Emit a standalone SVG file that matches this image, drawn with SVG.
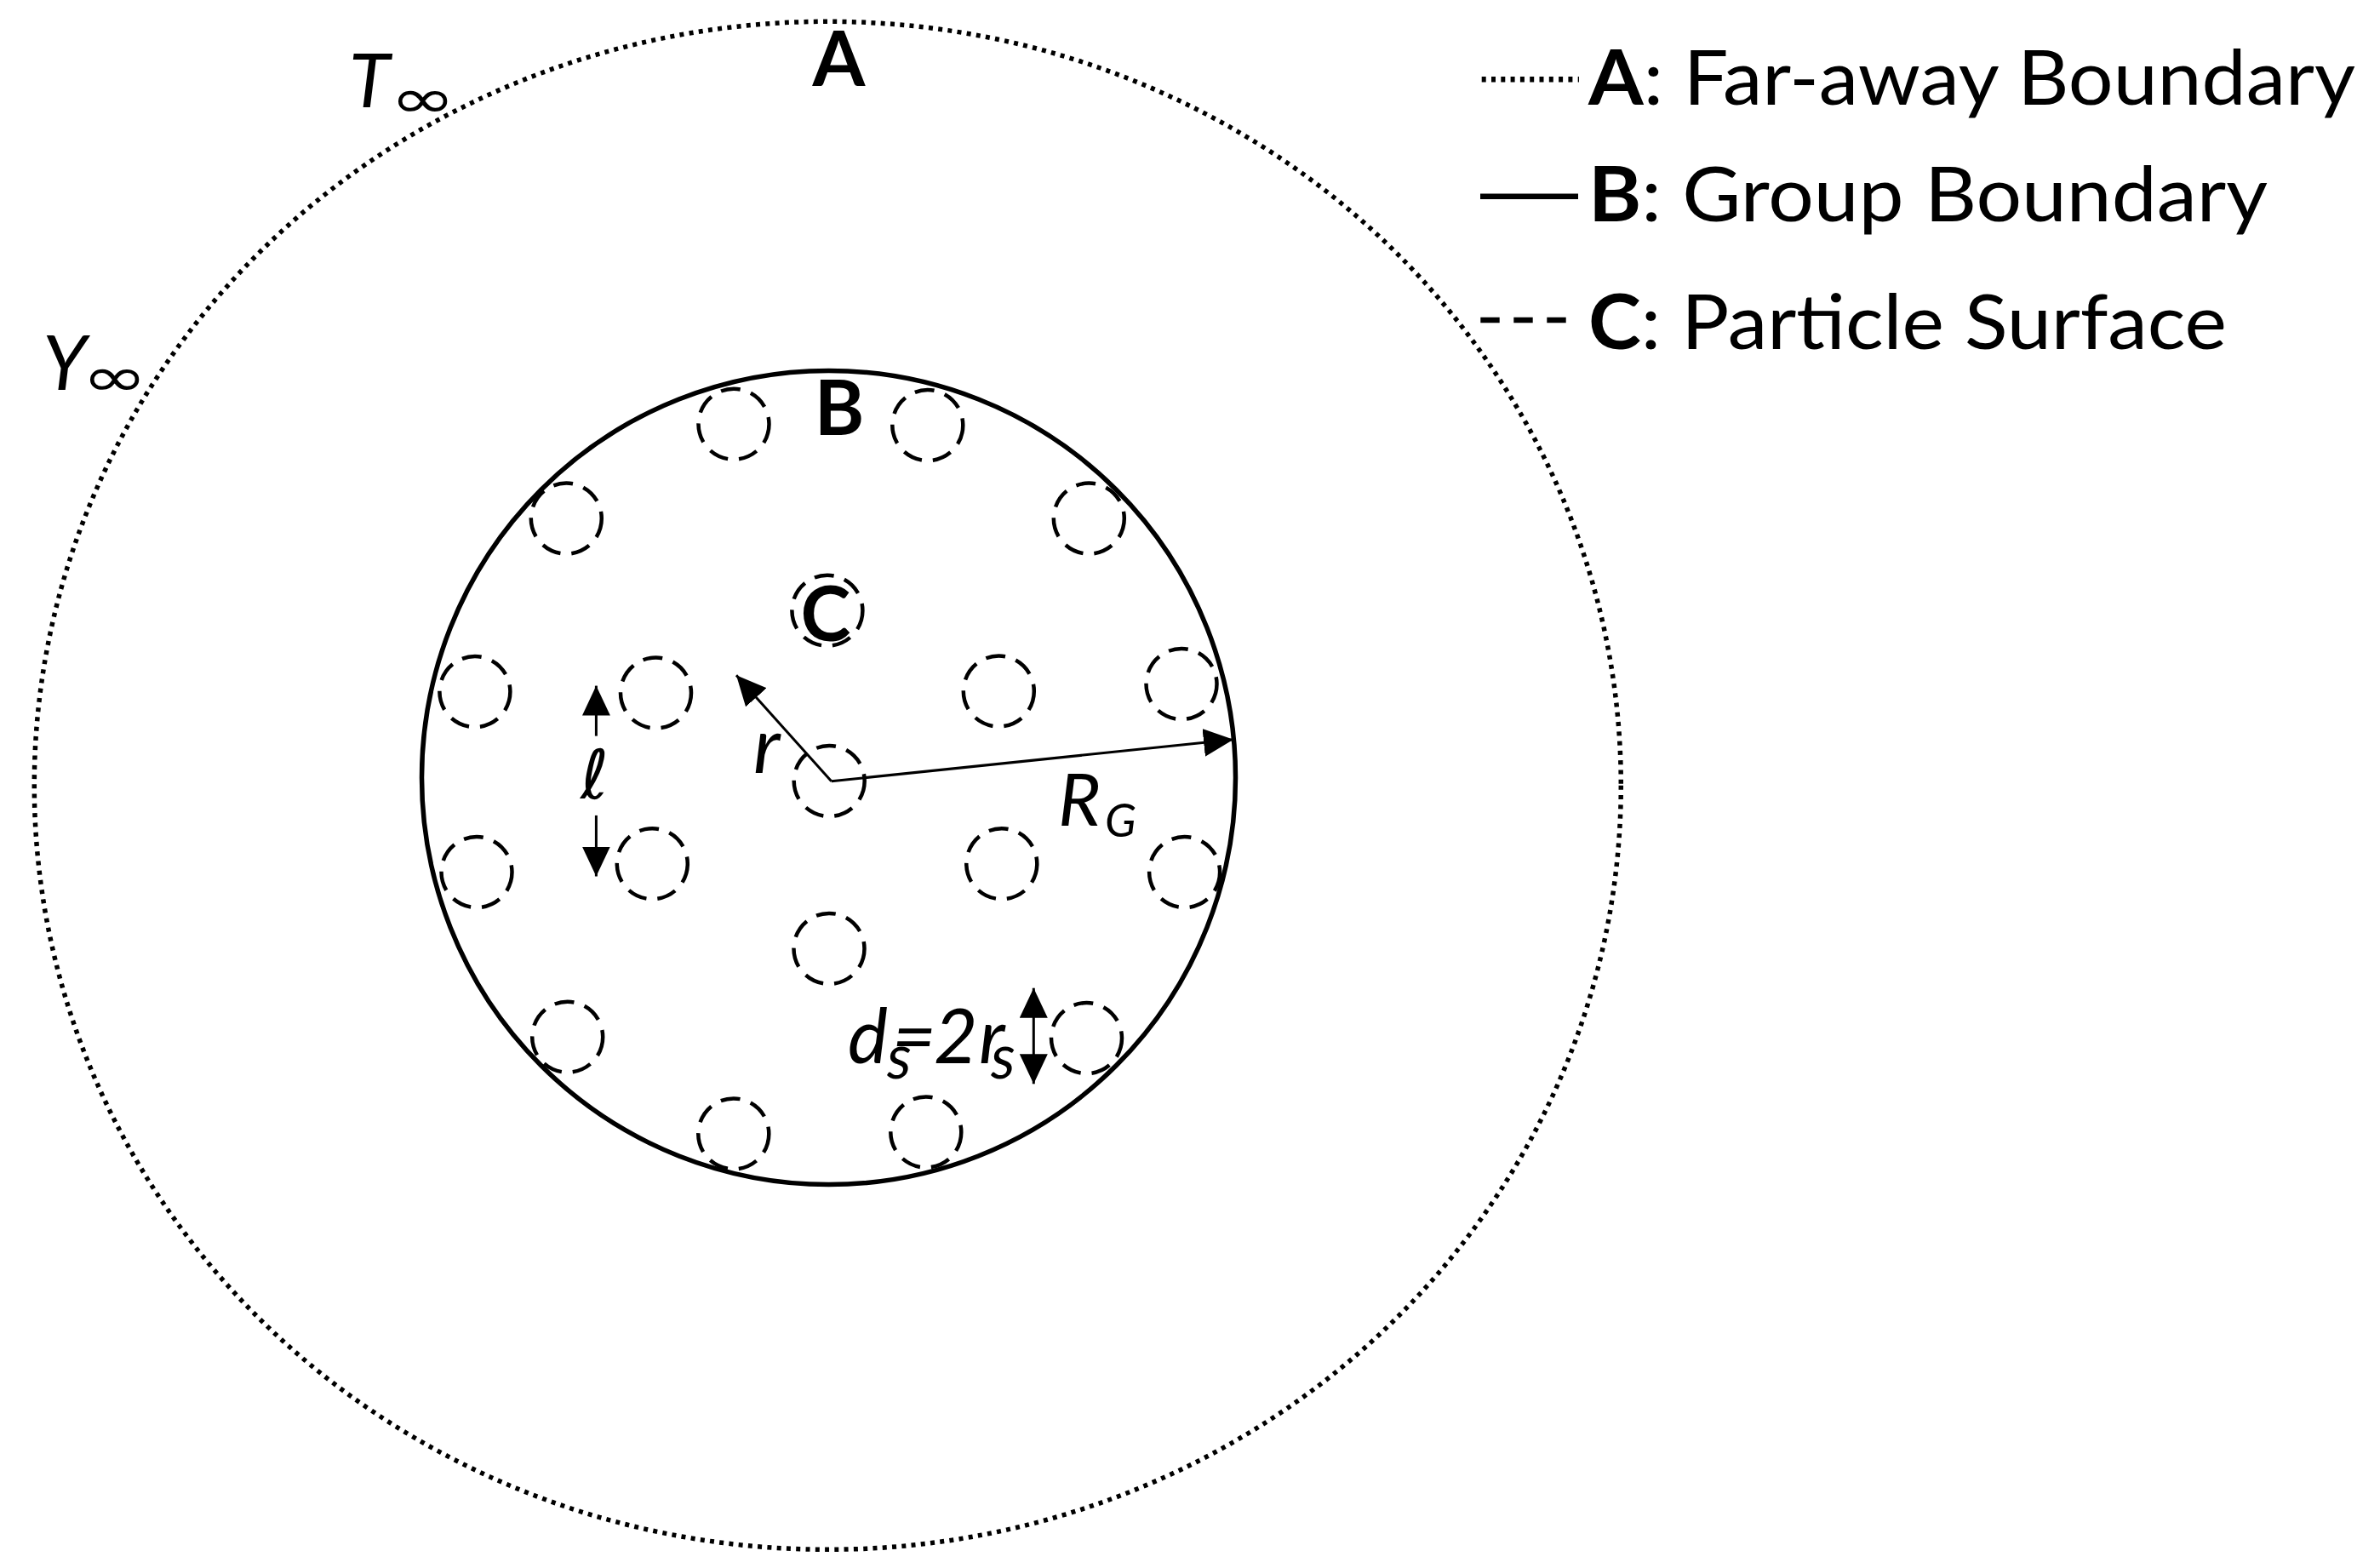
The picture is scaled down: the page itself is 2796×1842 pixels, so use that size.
<svg xmlns="http://www.w3.org/2000/svg" width="2796" height="1842" viewBox="0 0 2796 1842">
<style>
.dot{fill:none;stroke:#000;stroke-width:5.5;stroke-dasharray:5 6.3}
.solid{fill:none;stroke:#000;stroke-width:5.5}
.part{fill:none;stroke:#000;stroke-width:4.5;stroke-dasharray:23 13}
.arr{stroke:#000;stroke-width:3;fill:none}
.lbl{font-family:Lato,"Liberation Sans",sans-serif;font-weight:bold;font-size:89px;fill:#000}
.it{font-family:Lato,"Liberation Sans",sans-serif;font-style:italic;fill:#000}
.sym{font-family:"DejaVu Sans",sans-serif;font-style:italic;fill:#000}
.leg{font-family:Lato,"Liberation Sans",sans-serif;font-size:89px;fill:#000}
</style>
<defs>
<marker id="ah" markerUnits="userSpaceOnUse" markerWidth="36" markerHeight="34" refX="35" refY="16.5" orient="auto-start-reverse" viewBox="0 0 36 34">
<path d="M0,0 L35,16.5 L0,33 z" fill="#000"/>
</marker>
</defs>
<rect width="2796" height="1842" fill="#fff"/>
<g id="far-away-boundary">
<ellipse class="dot" cx="972.3" cy="922.8" rx="932" ry="897.5"/>
<text class="lbl" x="985.5" y="101" text-anchor="middle">A</text>
<text class="it" x="410" y="126" font-size="88">T</text>
<text class="sym" font-size="64" transform="translate(458,138) scale(1.45,1)">∞</text>
<text class="it" x="50" y="457.5" font-size="89">Y</text>
<text class="sym" font-size="64" transform="translate(96,465) scale(1.45,1)">∞</text>
</g>
<g id="group-boundary">
<circle class="solid" cx="973.5" cy="913.5" r="478"/>
<text class="lbl" x="986" y="510.7" text-anchor="middle">B</text>
</g>
<g id="particles">
<circle class="part" cx="862" cy="498.2" r="41.5"/>
<circle class="part" cx="1089.8" cy="499.6" r="41.5"/>
<circle class="part" cx="665.3" cy="609.1" r="41.5"/>
<circle class="part" cx="1279.3" cy="609.1" r="41.5"/>
<circle class="part" cx="971.9" cy="717.2" r="41.5"/>
<circle class="part" cx="557.9" cy="812.6" r="41.5"/>
<circle class="part" cx="770.5" cy="814" r="41.5"/>
<circle class="part" cx="1173.3" cy="812" r="41.5"/>
<circle class="part" cx="1388" cy="803.5" r="41.5"/>
<circle class="part" cx="974.2" cy="917.5" r="41.5"/>
<circle class="part" cx="560" cy="1024.6" r="41.5"/>
<circle class="part" cx="766.3" cy="1014.7" r="41.5"/>
<circle class="part" cx="1176.8" cy="1014.7" r="41.5"/>
<circle class="part" cx="1391.6" cy="1024.6" r="41.5"/>
<circle class="part" cx="974" cy="1114.4" r="41.5"/>
<circle class="part" cx="666.7" cy="1218.2" r="41.5"/>
<circle class="part" cx="1276.5" cy="1219.6" r="41.5"/>
<circle class="part" cx="861.8" cy="1331.9" r="41.5"/>
<circle class="part" cx="1087.8" cy="1330" r="41.5"/>
<text class="lbl" x="970" y="753" text-anchor="middle" font-size="91">C</text>
</g>
<g id="connectors">
<line class="arr" x1="976.7" y1="917.7" x2="865" y2="793.3" marker-end="url(#ah)"/>
<line class="arr" x1="976.7" y1="917.7" x2="1449" y2="868.8" marker-end="url(#ah)"/>
<line class="arr" x1="700.4" y1="864.6" x2="700.4" y2="805.6" marker-end="url(#ah)"/>
<line class="arr" x1="700.4" y1="957.9" x2="700.4" y2="1029.5" marker-end="url(#ah)"/>
<line class="arr" x1="1214.3" y1="1160.7" x2="1214.3" y2="1273.3" marker-start="url(#ah)" marker-end="url(#ah)"/>
</g>
<g id="dimension-labels">
<text class="it" x="885" y="907.7" font-size="92">r</text>
<text class="sym" x="682" y="938" font-size="80">ℓ</text>
<text class="it" font-size="86"><tspan x="1243" y="970">R</tspan><tspan x="1298" y="983" font-size="54">G</tspan></text>
<text class="it" font-size="89"><tspan x="996" y="1249.3">d</tspan><tspan x="1042" y="1266.7" font-size="72">s</tspan><tspan x="1048" y="1249.3">=</tspan><tspan x="1097" y="1249.3">2</tspan><tspan x="1150" y="1249.3">r</tspan><tspan x="1164" y="1266.7" font-size="72">s</tspan></text>
</g>
<g id="legend">
<line class="dot" x1="1740.7" y1="93.3" x2="1855" y2="93.3" style="stroke-width:6.5"/>
<text class="leg" x="1866" y="123.3" textLength="901" lengthAdjust="spacingAndGlyphs"><tspan font-weight="bold">A</tspan>: Far-away Boundary</text>
<line class="solid" x1="1739" y1="230.7" x2="1854" y2="230.7" style="stroke-width:6.5"/>
<text class="leg" x="1866" y="260" textLength="798" lengthAdjust="spacingAndGlyphs"><tspan font-weight="bold">B</tspan>: Group Boundary</text>
<line class="solid" x1="1739.3" y1="376" x2="1841.7" y2="376" style="stroke-width:6.5;stroke-dasharray:22.4 16.6"/>
<text class="leg" x="1866" y="410" textLength="750" lengthAdjust="spacingAndGlyphs"><tspan font-weight="bold">C</tspan>: Particle Surface</text>
</g>
</svg>
